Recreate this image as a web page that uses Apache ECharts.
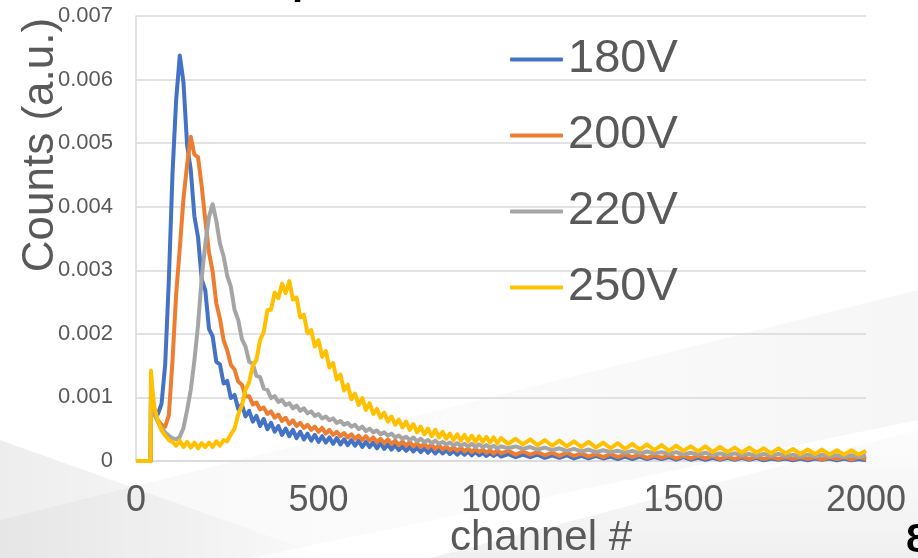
<!DOCTYPE html>
<html>
<head>
<meta charset="utf-8">
<script src="https://cdn.jsdelivr.net/npm/echarts@6/dist/echarts.min.js"></script>
<style>
  html, body { margin: 0; padding: 0; background: #ffffff; }
  #chart { width: 918px; height: 558px; }
</style>
</head>
<body>
<div id="chart"></div>
<script>
// MCA channel numbers shared by all four spectra
const channels = [0, 40, 41, 45,
  50, 60, 70, 80, 90, 100, 110, 120, 130, 140,
  150, 160, 170, 180, 190, 200, 210, 220, 230, 240,
  250, 260, 270, 280, 290, 300, 310, 320, 330, 340,
  350, 360, 370, 380, 390, 400, 410, 420, 430, 440,
  450, 460, 470, 480, 490, 500, 510, 520, 530, 540,
  550, 560, 570, 580, 590, 600, 610, 620, 630, 640,
  650, 660, 670, 680, 690, 700, 710, 720, 730, 740,
  750, 760, 770, 780, 790, 800, 810, 820, 830, 840,
  850, 860, 870, 880, 890, 900, 910, 920, 930, 940,
  950, 960, 970, 980, 990, 1000,
  1020, 1040, 1060, 1080, 1100, 1120, 1140, 1160, 1180, 1200,
  1220, 1240, 1260, 1280, 1300, 1320, 1340, 1360, 1380, 1400,
  1420, 1440, 1460, 1480, 1500, 1520, 1540, 1560, 1580, 1600,
  1620, 1640, 1660, 1680, 1700, 1720, 1740, 1760, 1780, 1800,
  1820, 1840, 1860, 1880, 1900, 1920, 1940, 1960, 1980, 2000];

// Normalised counts per channel, one array per bias voltage
const counts180V = [0, 0, 108e-5, 92e-5,
  80e-5, 74e-5, 90e-5, 152e-5, 285e-5, 452e-5, 568e-5, 638e-5, 596e-5, 497e-5,
  458e-5, 385e-5, 352e-5, 286e-5, 268e-5, 208e-5, 196e-5, 156e-5, 152e-5, 122e-5,
  126e-5, 99e-5, 104e-5, 82e-5, 89e-5, 70e-5, 79e-5, 62e-5, 71e-5, 55e-5,
  66e-5, 50e-5, 60e-5, 46e-5, 55e-5, 41e-5, 51e-5, 39e-5, 49e-5, 36e-5,
  46e-5, 34e-5, 43e-5, 32e-5, 41e-5, 30e-5, 39e-5, 29e-5, 37e-5, 27e-5,
  36e-5, 26e-5, 34e-5, 25e-5, 33e-5, 24e-5, 32e-5, 22e-5, 30e-5, 22e-5,
  29e-5, 20e-5, 28e-5, 19e-5, 26e-5, 18e-5, 25e-5, 17e-5, 23e-5, 16e-5,
  22e-5, 15e-5, 21e-5, 14e-5, 20e-5, 13e-5, 19e-5, 12e-5, 18e-5, 12e-5,
  17e-5, 11e-5, 16e-5, 10e-5, 15e-5, 10e-5, 15e-5, 9e-5, 14e-5, 9e-5,
  13e-5, 8e-5, 12e-5, 8e-5, 12e-5, 7e-5,
  11e-5, 6e-5, 10e-5, 6e-5, 10e-5, 5e-5, 9e-5, 5e-5, 9e-5, 4e-5,
  8e-5, 4e-5, 8e-5, 4e-5, 7e-5, 3e-5, 7e-5, 3e-5, 7e-5, 3e-5,
  6e-5, 3e-5, 6e-5, 2e-5, 6e-5, 2e-5, 5e-5, 2e-5, 5e-5, 2e-5,
  5e-5, 2e-5, 5e-5, 2e-5, 5e-5, 1e-5, 4e-5, 2e-5, 4e-5, 1e-5,
  4e-5, 1e-5, 4e-5, 2e-5, 4e-5, 1e-5, 4e-5, 1e-5, 3e-5, 1e-5];

const counts200V = [0, 0, 98e-5, 86e-5,
  74e-5, 64e-5, 57e-5, 54e-5, 72e-5, 158e-5, 262e-5, 335e-5, 412e-5, 466e-5,
  510e-5, 482e-5, 478e-5, 432e-5, 378e-5, 328e-5, 298e-5, 248e-5, 224e-5, 190e-5,
  174e-5, 151e-5, 144e-5, 125e-5, 120e-5, 102e-5, 102e-5, 89e-5, 92e-5, 81e-5,
  84e-5, 74e-5, 78e-5, 68e-5, 73e-5, 63e-5, 68e-5, 58e-5, 64e-5, 55e-5,
  60e-5, 52e-5, 57e-5, 49e-5, 54e-5, 46e-5, 52e-5, 43e-5, 49e-5, 41e-5,
  46e-5, 39e-5, 44e-5, 37e-5, 42e-5, 35e-5, 40e-5, 33e-5, 39e-5, 32e-5,
  37e-5, 30e-5, 35e-5, 28e-5, 34e-5, 27e-5, 32e-5, 25e-5, 31e-5, 24e-5,
  30e-5, 23e-5, 28e-5, 22e-5, 27e-5, 21e-5, 26e-5, 19e-5, 25e-5, 18e-5,
  23e-5, 17e-5, 22e-5, 16e-5, 21e-5, 15e-5, 20e-5, 14e-5, 19e-5, 14e-5,
  18e-5, 13e-5, 17e-5, 12e-5, 17e-5, 12e-5,
  16e-5, 10e-5, 15e-5, 10e-5, 14e-5, 9e-5, 13e-5, 8e-5, 13e-5, 8e-5,
  12e-5, 7e-5, 11e-5, 6e-5, 11e-5, 6e-5, 10e-5, 6e-5, 10e-5, 5e-5,
  9e-5, 5e-5, 9e-5, 4e-5, 8e-5, 4e-5, 8e-5, 4e-5, 8e-5, 3e-5,
  7e-5, 3e-5, 7e-5, 3e-5, 7e-5, 3e-5, 6e-5, 3e-5, 6e-5, 3e-5,
  6e-5, 3e-5, 6e-5, 2e-5, 6e-5, 3e-5, 6e-5, 2e-5, 6e-5, 3e-5];

const counts220V = [0, 0, 92e-5, 84e-5,
  74e-5, 61e-5, 52e-5, 45e-5, 40e-5, 36e-5, 34e-5, 38e-5, 52e-5, 80e-5,
  112e-5, 158e-5, 214e-5, 288e-5, 342e-5, 384e-5, 404e-5, 378e-5, 342e-5, 322e-5,
  291e-5, 274e-5, 238e-5, 222e-5, 192e-5, 180e-5, 156e-5, 153e-5, 134e-5, 132e-5,
  114e-5, 112e-5, 99e-5, 102e-5, 93e-5, 96e-5, 88e-5, 91e-5, 83e-5, 87e-5,
  79e-5, 83e-5, 75e-5, 78e-5, 71e-5, 74e-5, 67e-5, 70e-5, 64e-5, 67e-5,
  60e-5, 63e-5, 57e-5, 60e-5, 54e-5, 57e-5, 50e-5, 54e-5, 47e-5, 51e-5,
  45e-5, 48e-5, 42e-5, 45e-5, 40e-5, 43e-5, 37e-5, 40e-5, 35e-5, 38e-5,
  33e-5, 37e-5, 31e-5, 35e-5, 30e-5, 33e-5, 28e-5, 32e-5, 27e-5, 30e-5,
  26e-5, 29e-5, 25e-5, 28e-5, 24e-5, 27e-5, 23e-5, 27e-5, 22e-5, 26e-5,
  22e-5, 25e-5, 21e-5, 24e-5, 20e-5, 23e-5,
  20e-5, 23e-5, 19e-5, 22e-5, 18e-5, 21e-5, 17e-5, 20e-5, 16e-5, 19e-5,
  15e-5, 18e-5, 14e-5, 17e-5, 14e-5, 16e-5, 13e-5, 16e-5, 12e-5, 15e-5,
  12e-5, 14e-5, 11e-5, 14e-5, 10e-5, 13e-5, 10e-5, 13e-5, 9e-5, 12e-5,
  9e-5, 12e-5, 9e-5, 11e-5, 8e-5, 11e-5, 8e-5, 11e-5, 8e-5, 10e-5,
  7e-5, 10e-5, 7e-5, 10e-5, 7e-5, 9e-5, 6e-5, 9e-5, 6e-5, 9e-5];

const counts250V = [0, 0, 142e-5, 112e-5,
  86e-5, 63e-5, 48e-5, 40e-5, 33e-5, 30e-5, 24e-5, 32e-5, 22e-5, 30e-5,
  21e-5, 29e-5, 20e-5, 28e-5, 22e-5, 29e-5, 22e-5, 31e-5, 24e-5, 33e-5,
  31e-5, 42e-5, 51e-5, 73e-5, 87e-5, 112e-5, 124e-5, 150e-5, 159e-5, 190e-5,
  203e-5, 237e-5, 238e-5, 265e-5, 256e-5, 279e-5, 264e-5, 283e-5, 254e-5, 257e-5,
  226e-5, 230e-5, 201e-5, 206e-5, 180e-5, 190e-5, 164e-5, 173e-5, 147e-5, 154e-5,
  128e-5, 136e-5, 111e-5, 120e-5, 97e-5, 106e-5, 88e-5, 99e-5, 80e-5, 91e-5,
  74e-5, 82e-5, 68e-5, 76e-5, 62e-5, 70e-5, 57e-5, 65e-5, 53e-5, 62e-5,
  49e-5, 58e-5, 45e-5, 54e-5, 42e-5, 51e-5, 39e-5, 49e-5, 37e-5, 46e-5,
  35e-5, 43e-5, 33e-5, 42e-5, 32e-5, 41e-5, 31e-5, 40e-5, 30e-5, 39e-5,
  30e-5, 38e-5, 29e-5, 37e-5, 28e-5, 36e-5,
  27e-5, 35e-5, 26e-5, 34e-5, 25e-5, 33e-5, 24e-5, 32e-5, 23e-5, 31e-5,
  22e-5, 30e-5, 21e-5, 29e-5, 20e-5, 28e-5, 19e-5, 27e-5, 18e-5, 26e-5,
  17e-5, 25e-5, 16e-5, 24e-5, 16e-5, 23e-5, 15e-5, 23e-5, 14e-5, 22e-5,
  14e-5, 21e-5, 13e-5, 21e-5, 13e-5, 20e-5, 12e-5, 20e-5, 12e-5, 19e-5,
  11e-5, 18e-5, 11e-5, 18e-5, 10e-5, 17e-5, 10e-5, 17e-5, 10e-5, 16e-5];

const seriesNames = ['180V', '200V', '220V', '250V'];
const seriesValues = [counts180V, counts200V, counts220V, counts250V];
const seriesColors = ['#4472C4', '#ED7D31', '#A5A5A5', '#FFC000'];

// Axis tick values
const xTicks = [0, 500, 1000, 1500, 2000];
const yTicks = [0, 0.001, 0.002, 0.003, 0.004, 0.005, 0.006, 0.007];

const FONT = '"Liberation Sans", Arial, sans-serif';
const TEXT = '#595959';
const GRIDC = '#D9D9D9';

function lg(x0, y0, x1, y1, stops) {
  return new echarts.graphic.LinearGradient(x0, y0, x1, y1,
    stops.map(s => ({ offset: s[0], color: s[1] })));
}

const chart = echarts.init(document.getElementById('chart'), null, { renderer: 'canvas' });

const option = {
  backgroundColor: '#ffffff',
  animation: false,
  textStyle: { fontFamily: FONT },
  grid: { left: 136, right: 52, top: 16, bottom: 97, containLabel: false },
  legend: {
    orient: 'vertical',
    left: 510,
    top: 36,
    padding: 0,
    itemWidth: 53,
    itemHeight: 4,
    itemGap: 29,
    icon: 'roundRect',
    data: seriesNames,
    textStyle: { fontSize: 47, color: TEXT, fontFamily: FONT }
  },
  xAxis: {
    type: 'value',
    min: xTicks[0],
    max: xTicks[xTicks.length - 1],
    interval: xTicks[1] - xTicks[0],
    axisLine: { show: true, lineStyle: { color: GRIDC, width: 1.5 } },
    axisTick: { show: false },
    splitLine: { show: false },
    axisLabel: { fontSize: 36, color: TEXT, margin: 22, fontFamily: FONT,
      formatter: v => String(v) }
  },
  yAxis: {
    type: 'value',
    min: yTicks[0],
    max: yTicks[yTicks.length - 1],
    interval: yTicks[1] - yTicks[0],
    axisLine: { show: true, lineStyle: { color: GRIDC, width: 1.5 } },
    axisTick: { show: false },
    splitLine: { show: true, lineStyle: { color: GRIDC, width: 1.5 } },
    axisLabel: { fontSize: 22, color: TEXT, margin: 23, fontFamily: FONT }
  },
  graphic: [
    // soft grey slide-background sweeps
    {
      type: 'polygon', z: -10, silent: true,
      shape: { points: [[0, 440], [0, 558], [330, 558]] },
      style: { fill: lg(0, 0, 1, 0, [[0, 'rgba(0,0,0,0.07)'], [0.6, 'rgba(0,0,0,0.03)'], [1, 'rgba(0,0,0,0)']]) }
    },
    {
      type: 'polygon', z: -10, silent: true,
      shape: { points: [[0, 520], [918, 290], [918, 420], [250, 558], [0, 558]] },
      style: { fill: lg(0, 0, 1, 0, [[0, 'rgba(0,0,0,0.03)'], [0.45, 'rgba(0,0,0,0.015)'], [1, 'rgba(0,0,0,0.035)']]) }
    },
    {
      type: 'polygon', z: -10, silent: true,
      shape: { points: [[430, 558], [918, 430], [918, 558]] },
      style: { fill: lg(0, 0, 0, 1, [[0, 'rgba(0,0,0,0.01)'], [1, 'rgba(0,0,0,0.06)']]) }
    },
    // axis titles
    {
      type: 'text', z: 10, x: 41, y: 145, rotation: Math.PI / 2,
      style: { text: 'Counts (a.u.)', font: '44px ' + FONT, fill: TEXT, align: 'center', verticalAlign: 'middle' }
    },
    {
      type: 'text', z: 10, x: 541, y: 538,
      style: { text: 'channel #', font: '42px ' + FONT, fill: TEXT, align: 'center', verticalAlign: 'middle' }
    },
    // slide title descender and page number at the edges
    {
      type: 'text', z: 10, x: 292, y: -17,
      style: { text: 'p', font: 'bold 40px ' + FONT, fill: '#000000', align: 'left', verticalAlign: 'middle' }
    },
    {
      type: 'text', z: 10, x: 906, y: 541,
      style: { text: '8', font: 'bold 40px ' + FONT, fill: '#000000', align: 'left', verticalAlign: 'middle' }
    }
  ],
  series: seriesNames.map((name, k) => ({
    name: name,
    type: 'line',
    showSymbol: false,
    symbol: 'none',
    smooth: false,
    color: seriesColors[k],
    lineStyle: { width: 4, color: seriesColors[k], join: 'round' },
    data: channels.map((c, i) => [c, seriesValues[k][i]])
  }))
};

chart.setOption(option);
</script>
</body>
</html>
